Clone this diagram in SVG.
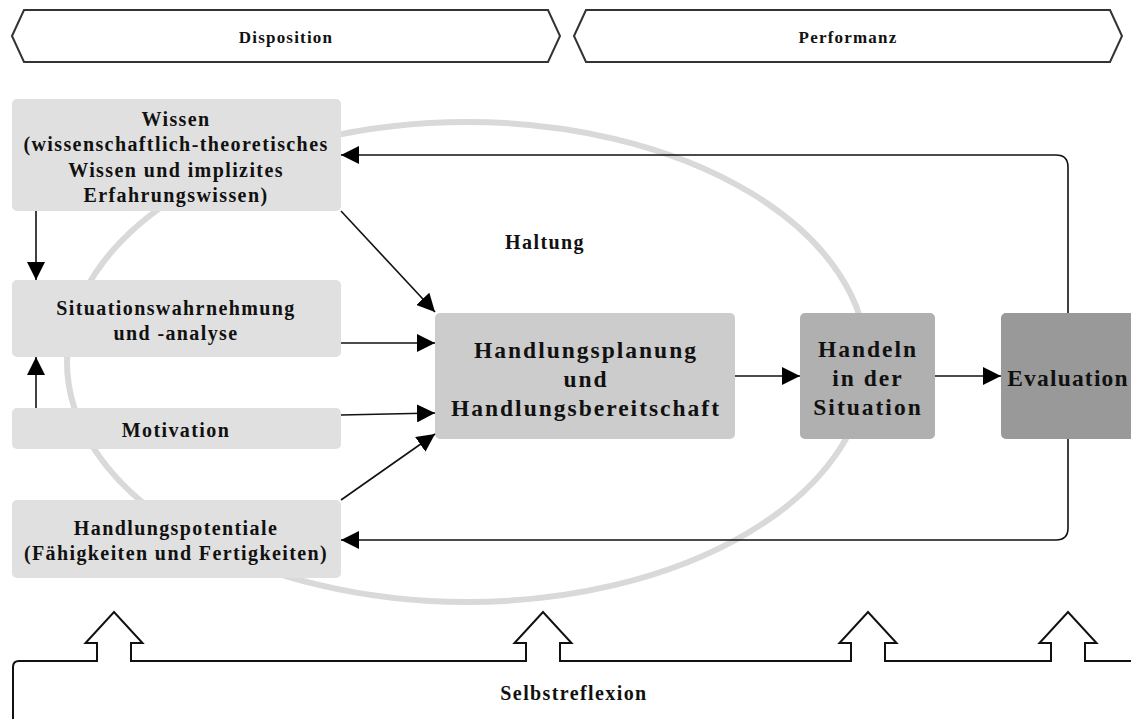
<svg xmlns="http://www.w3.org/2000/svg" width="1131" height="719" viewBox="0 0 1131 719">
<style>
  .t { font-family: "Liberation Serif", "Times New Roman", serif; font-weight: bold; fill: #111; text-anchor: middle; }
  .hdr { font-size: 17px; letter-spacing: 1.2px; }
  .box { font-size: 20px; letter-spacing: 1.4px; }
  .big { font-size: 23.5px; letter-spacing: 2px; }
  .banner { fill: #fff; stroke: #333; stroke-width: 2; }
  .conn { fill: none; stroke: #111; stroke-width: 1.6; }
  .self { fill: none; stroke: #111; stroke-width: 2; stroke-linejoin: miter; }
</style>
<defs>
  <marker id="ah" markerUnits="userSpaceOnUse" markerWidth="20" markerHeight="18" refX="18" refY="9" orient="auto">
    <path d="M0,0 L18,9 L0,18 Z" fill="#000"/>
  </marker>
</defs>
<rect width="1131" height="719" fill="#fff"/>

<g id="disposition">
  <polygon class="banner" points="12,36 24,10 548,10 560,36 548,62 24,62"/>
  <text class="t hdr" x="286" y="43">Disposition</text>
</g>
<g id="performanz">
  <polygon class="banner" points="574,36 586,10 1110,10 1122,36 1110,62 586,62"/>
  <text class="t hdr" x="848" y="43">Performanz</text>
</g>

<g id="haltung">
  <ellipse cx="467" cy="362" rx="400" ry="240" fill="none" stroke="#d9d9d9" stroke-width="6"/>
  <text class="t box" x="545" y="249">Haltung</text>
</g>

<g id="wissen">
  <rect x="12" y="99" width="329" height="112" rx="5" fill="#e0e0e0"/>
  <text class="t box" x="176" y="126">Wissen</text>
  <text class="t box" x="176" y="151">(wissenschaftlich-theoretisches</text>
  <text class="t box" x="176" y="177">Wissen und implizites</text>
  <text class="t box" x="176" y="202">Erfahrungswissen)</text>
</g>
<g id="situation">
  <rect x="12" y="280" width="329" height="77" rx="5" fill="#e0e0e0"/>
  <text class="t box" x="176" y="315">Situationswahrnehmung</text>
  <text class="t box" x="176" y="340">und -analyse</text>
</g>
<g id="motivation">
  <rect x="12" y="408" width="329" height="41" rx="5" fill="#e0e0e0"/>
  <text class="t box" x="176" y="437">Motivation</text>
</g>
<g id="potentiale">
  <rect x="12" y="500" width="329" height="78" rx="5" fill="#e0e0e0"/>
  <text class="t box" x="176" y="535">Handlungspotentiale</text>
  <text class="t box" x="176" y="560">(Fähigkeiten und Fertigkeiten)</text>
</g>
<g id="planung">
  <rect x="435" y="313" width="300" height="126" rx="5" fill="#cccccc"/>
  <text class="t big" x="586" y="358">Handlungsplanung</text>
  <text class="t big" x="586" y="387">und</text>
  <text class="t big" x="586" y="416">Handlungsbereitschaft</text>
</g>
<g id="handeln">
  <rect x="800" y="313" width="135" height="126" rx="5" fill="#b0b0b0"/>
  <text class="t big" x="868" y="357">Handeln</text>
  <text class="t big" x="868" y="386">in der</text>
  <text class="t big" x="868" y="415">Situation</text>
</g>
<g id="evaluation">
  <rect x="1001" y="313" width="140" height="126" rx="5" fill="#999999"/>
  <text class="t big" x="1068" y="386" style="letter-spacing:1.2px">Evaluation</text>
</g>

<g id="connectors">
  <line class="conn" x1="36" y1="211" x2="36" y2="280" marker-end="url(#ah)"/>
  <line class="conn" x1="36" y1="408" x2="36" y2="357" marker-end="url(#ah)"/>
  <line class="conn" x1="341" y1="211" x2="435" y2="312" marker-end="url(#ah)"/>
  <line class="conn" x1="341" y1="343" x2="435" y2="343" marker-end="url(#ah)"/>
  <line class="conn" x1="341" y1="415" x2="435" y2="413" marker-end="url(#ah)"/>
  <line class="conn" x1="341" y1="500" x2="435" y2="434" marker-end="url(#ah)"/>
  <line class="conn" x1="735" y1="376" x2="800" y2="376" marker-end="url(#ah)"/>
  <line class="conn" x1="935" y1="376" x2="1001" y2="376" marker-end="url(#ah)"/>
  <path class="conn" d="M1068,313 V167 Q1068,155 1056,155 H341" marker-end="url(#ah)"/>
  <path class="conn" d="M1068,439 V528 Q1068,540 1056,540 H341" marker-end="url(#ah)"/>
</g>

<g id="selbstreflexion">
  <path class="self" d="M13,719 V667 Q13,661 19,661 H97 V643 H85.5 L114,612 L142.5,643 H131 V661 H526 V643 H514.5 L543,612 L571.5,643 H560 V661 H851 V643 H839.5 L868,612 L896.5,643 H885 V661 H1051 V643 H1039.5 L1068,612 L1096.5,643 H1085 V661 H1131"/>
  <text class="t box" x="574" y="700">Selbstreflexion</text>
</g>
</svg>
